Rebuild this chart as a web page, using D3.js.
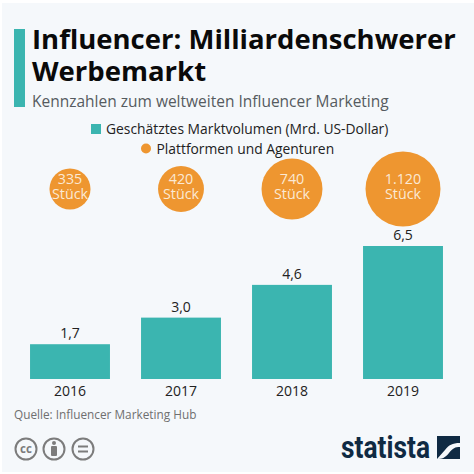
<!DOCTYPE html>
<html><head><meta charset="utf-8">
<script src="https://cdn.jsdelivr.net/npm/d3@7"></script>
<style>html,body{margin:0;padding:0;background:#fff}svg{display:block}text{font-family:"Open Sans",sans-serif}</style>
</head><body><svg id="c" width="474" height="474"></svg>
<script>
const years = ["2016","2017","2018","2019"];
const marketVolume = [1.7,3.0,4.6,6.5];
const marketLabels = ["1,7","3,0","4,6","6,5"];
const platforms = [335,420,740,1120];
const platformLabels = ["335","420","740","1.120"];
const unit = "Stück";
const titleLines = ["Influencer: Milliardenschwerer","Werbemarkt"];
const subtitle = "Kennzahlen zum weltweiten Influencer Marketing";
const legendLabels = ["Geschätztes Marktvolumen (Mrd. US-Dollar)","Plattformen und Agenturen"];
const source = "Quelle: Influencer Marketing Hub";
const teal="#3bb5b0", orange="#ee9630", dark="#0f2a43", grey="#6f6f6f";

const svg=d3.select("#c");
svg.append("rect").attr("x",2).attr("y",3).attr("width",472).attr("height",469).attr("fill","#f5f8fb");
svg.append("rect").attr("x",14).attr("y",29).attr("width",11).attr("height",78).attr("fill",teal);
svg.selectAll(".t").data(titleLines).join("text").attr("x",32).attr("y",(d,i)=>48.5+i*32)
  .attr("font-size",27.5).attr("font-weight",700).attr("fill","#0a0a0a").text(d=>d);
svg.append("text").attr("x",32).attr("y",107).attr("font-size",15.5).attr("fill","#555b60").text(subtitle);

svg.append("rect").attr("x",91).attr("y",124).attr("width",10).attr("height",10).attr("fill",teal);
svg.append("text").attr("x",106).attr("y",134).attr("font-size",13.85).attr("fill","#222").text(legendLabels[0]);
svg.append("circle").attr("cx",146).attr("cy",148.5).attr("r",5).attr("fill",orange);
svg.append("text").attr("x",156.5).attr("y",153.5).attr("font-size",13.85).attr("fill","#222").text(legendLabels[1]);

const x=d3.scaleBand().domain(years).range([14.5,458.5]).paddingInner(0.28).paddingOuter(0.14);
const y=d3.scaleLinear().domain([0,6.5]).range([379,246]);
const r=d3.scaleSqrt().domain([0,1120]).range([0,37.5]);
const cx=d=>x(d)+x.bandwidth()/2;

svg.selectAll(".bar").data(years).join("rect").attr("x",d=>x(d)).attr("width",x.bandwidth())
  .attr("y",(d,i)=>y(marketVolume[i])).attr("height",(d,i)=>y(0)-y(marketVolume[i])).attr("fill",teal);
svg.selectAll(".val").data(years).join("text").attr("x",cx).attr("y",(d,i)=>y(marketVolume[i])-6)
  .attr("text-anchor","middle").attr("font-size",14).attr("fill","#222").text((d,i)=>marketLabels[i]);
svg.selectAll(".yr").data(years).join("text").attr("x",cx).attr("y",396)
  .attr("text-anchor","middle").attr("font-size",14).attr("fill","#222").text(d=>d);

svg.selectAll(".bub").data(years).join("circle").attr("cx",cx).attr("cy",189)
  .attr("r",(d,i)=>r(platforms[i])).attr("fill",orange);
const bl=svg.selectAll(".bl").data(years).join("text").attr("text-anchor","middle")
  .attr("font-size",14.3).attr("fill","#fbe9d4");
bl.append("tspan").attr("x",cx).attr("y",184).text((d,i)=>platformLabels[i]);
bl.append("tspan").attr("x",cx).attr("y",199).text(unit);

svg.append("text").attr("x",14).attr("y",419).attr("font-size",11.8).attr("fill",grey).text(source);

const g=svg.append("g").attr("fill","none").attr("stroke","#7c7c7c").attr("stroke-width",2);
[26,54,83].forEach(c=>g.append("circle").attr("cx",c).attr("cy",449).attr("r",10.5));
svg.append("text").attr("x",26).attr("y",453).attr("text-anchor","middle").attr("font-size",11.5).attr("font-weight",700).attr("fill","#7c7c7c").text("cc");
svg.append("circle").attr("cx",54).attr("cy",443).attr("r",2).attr("fill","#7c7c7c");
svg.append("rect").attr("x",51).attr("y",446).attr("width",6).attr("height",10).attr("rx",1).attr("fill","#7c7c7c");
svg.append("rect").attr("x",78).attr("y",445.5).attr("width",10).attr("height",2).attr("fill","#7c7c7c");
svg.append("rect").attr("x",78).attr("y",450.5).attr("width",10).attr("height",2).attr("fill","#7c7c7c");

svg.append("text").attr("x",341).attr("y",458).style("font-family","Roboto,sans-serif")
  .attr("font-size",31).attr("font-weight",700).attr("fill",dark)
  .attr("textLength",89).attr("lengthAdjust","spacingAndGlyphs").text("statista");
svg.append("path").attr("fill",dark).attr("fill-rule","evenodd")
  .attr("d","M437 436H460V443C452 443 449 445 445 450L437 459Z M460 447V459H437C442 459 445 458 449 453C453 448 455 447 460 447Z");
</script></body></html>
